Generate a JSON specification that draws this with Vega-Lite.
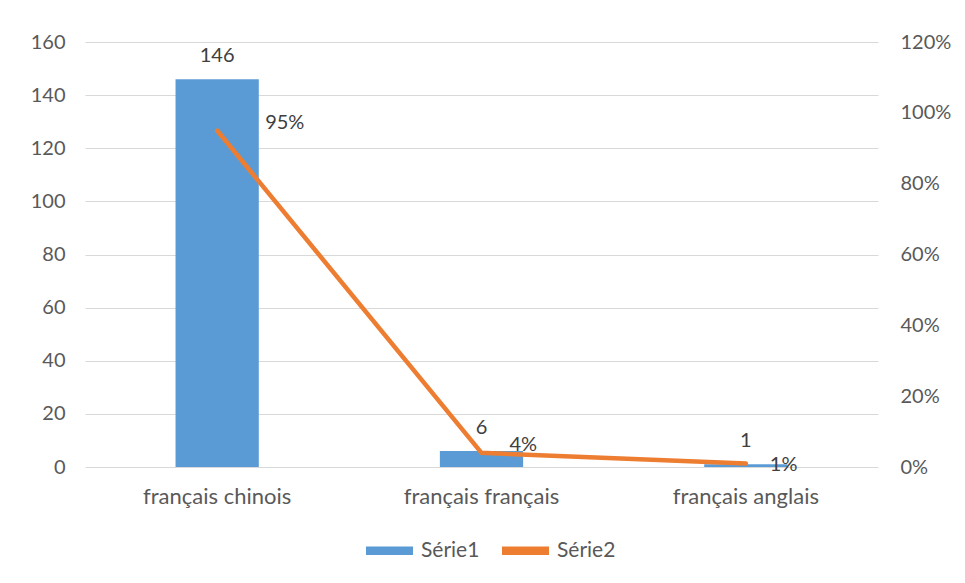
{
  "$schema": "https://vega.github.io/schema/vega-lite/v6.json",
  "autosize": "none",
  "width": 793,
  "height": 425,
  "padding": {"left": 85, "top": 42, "right": 87, "bottom": 116},
  "background": "white",
  "config": {
    "view": {"stroke": null},
    "font": "Lato",
    "axis": {"labelFont": "Lato", "labelFontSize": 20, "labelColor": "#595959", "domain": false, "ticks": false, "gridColor": "#d9d9d9", "gridWidth": 1.2},
    "text": {"font": "Lato", "fontSize": 20, "fill": "#404040"}
  },
  "data": {"values": [
    {"cat": "français chinois", "count": 146, "pct": 0.95},
    {"cat": "français français", "count": 6, "pct": 0.04},
    {"cat": "français anglais", "count": 1, "pct": 0.01}
  ]},
  "encoding": {
    "x": {"field": "cat", "type": "nominal", "sort": null, "title": null,
      "scale": {"paddingInner": 0, "paddingOuter": 0},
      "axis": {"labelAngle": 0, "labelPadding": 19, "labelFontSize": 22}}
  },
  "layer": [
    {
      "layer": [
        {
          "mark": {"type": "bar", "width": {"band": 0.315}},
          "encoding": {
            "y": {"field": "count", "type": "quantitative", "title": null,
              "scale": {"domain": [0, 160], "nice": false},
              "axis": {"values": [0, 20, 40, 60, 80, 100, 120, 140, 160], "grid": true, "labelPadding": 20}},
            "color": {"datum": "Série1", "type": "nominal",
              "scale": {"domain": ["Série1", "Série2"], "range": ["#5b9bd5", "#ed7d31"]},
              "legend": {"title": null, "orient": "none", "direction": "horizontal", "legendX": 281, "legendY": 485,
                "symbolType": "M-1,-0.18H1V0.18H-1Z", "symbolSize": 2209, "symbolStrokeWidth": 0,
                "labelFont": "Lato", "labelFontSize": 21, "labelColor": "#595959", "labelOffset": 8, "columnPadding": 22}}
          }
        },
        {
          "mark": {"type": "text", "baseline": "alphabetic", "dy": -17},
          "encoding": {
            "y": {"field": "count", "type": "quantitative"},
            "text": {"field": "count", "type": "quantitative"}
          }
        }
      ]
    },
    {
      "layer": [
        {
          "mark": {"type": "line", "strokeWidth": 4.5, "strokeCap": "round"},
          "encoding": {
            "y": {"field": "pct", "type": "quantitative", "title": null,
              "scale": {"domain": [0, 1.2], "nice": false},
              "axis": {"orient": "right", "values": [0, 0.2, 0.4, 0.6, 0.8, 1.0, 1.2], "format": ".0%", "grid": false, "labelPadding": 22}},
            "color": {"datum": "Série2", "type": "nominal"}
          }
        },
        {
          "transform": [{"filter": "datum.cat === 'français chinois'"}],
          "mark": {"type": "text", "align": "left", "baseline": "middle", "dx": 48, "dy": -8},
          "encoding": {
            "y": {"field": "pct", "type": "quantitative"},
            "text": {"field": "pct", "type": "quantitative", "format": ".0%"}
          }
        },
        {
          "transform": [{"filter": "datum.cat === 'français français'"}],
          "mark": {"type": "text", "align": "left", "baseline": "middle", "dx": 28, "dy": -8},
          "encoding": {
            "y": {"field": "pct", "type": "quantitative"},
            "text": {"field": "pct", "type": "quantitative", "format": ".0%"}
          }
        },
        {
          "transform": [{"filter": "datum.cat === 'français anglais'"}],
          "mark": {"type": "text", "align": "left", "baseline": "middle", "dx": 24, "dy": 2},
          "encoding": {
            "y": {"field": "pct", "type": "quantitative"},
            "text": {"field": "pct", "type": "quantitative", "format": ".0%"}
          }
        }
      ]
    }
  ],
  "resolve": {"scale": {"y": "independent"}}
}
